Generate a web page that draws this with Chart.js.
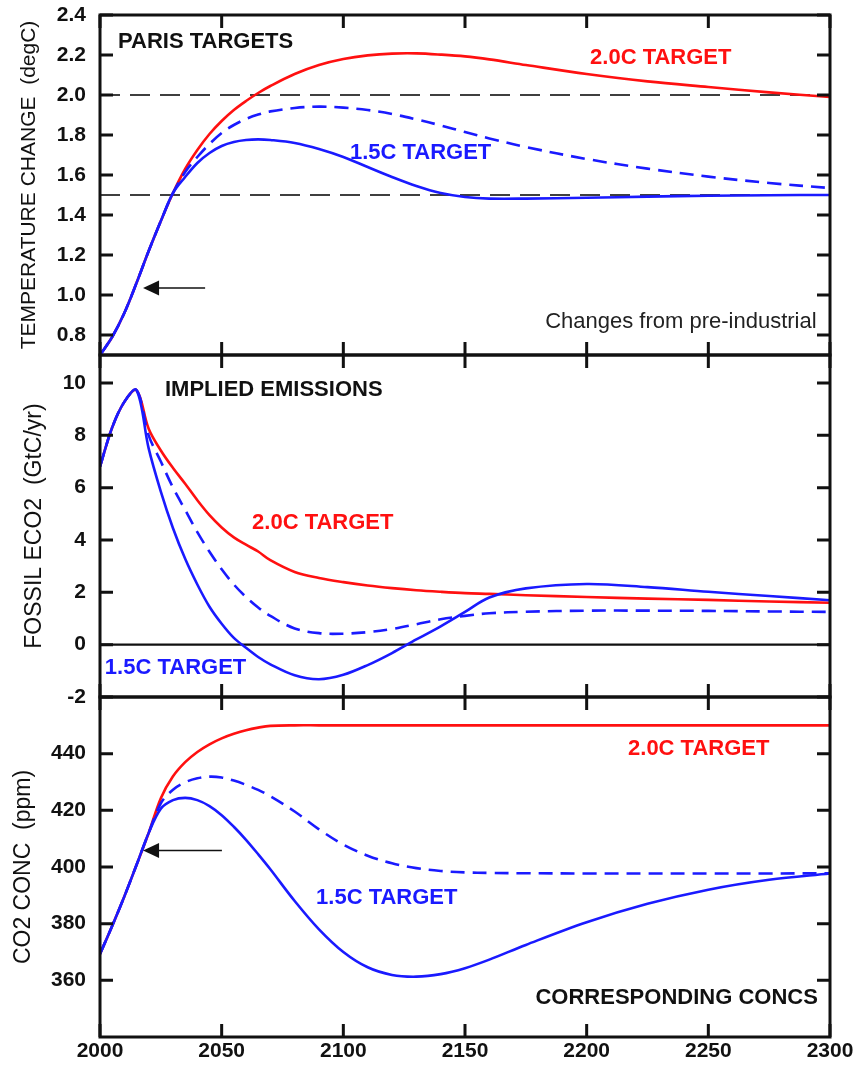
<!DOCTYPE html>
<html>
<head>
<meta charset="utf-8">
<script src="https://cdn.jsdelivr.net/npm/chart.js@4.4.0/dist/chart.umd.min.js"></script>
<style>
  html, body { margin: 0; padding: 0; background: #fff; }
  #wrap { position: relative; width: 854px; height: 1074px; }
  #wrap canvas { position: absolute; left: 0; top: 0; }
</style>
</head>
<body>
<div id="wrap">
  <canvas id="conc" width="854" height="1074"></canvas>
  <canvas id="emis" width="854" height="1074"></canvas>
  <canvas id="temp" width="854" height="1074"></canvas>
</div>
<script>
// sample years shared by every series
const years = [2000, 2005, 2010, 2015, 2020, 2025, 2030, 2035, 2040, 2045, 2050, 2055, 2060, 2065, 2070,
               2080, 2090, 2100, 2110, 2120, 2130, 2140, 2150, 2160, 2175, 2200, 2225, 2250, 2275, 2300];

// temperature change (degC)
const temp20 = [0.70, 0.79, 0.91, 1.06, 1.22, 1.37, 1.51, 1.63, 1.725, 1.805, 1.87, 1.925, 1.97, 2.01, 2.045,
                2.105, 2.15, 2.18, 2.198, 2.207, 2.208, 2.202, 2.193, 2.178, 2.15, 2.105, 2.068, 2.04, 2.013, 1.99];
const temp15 = [0.70, 0.79, 0.91, 1.06, 1.22, 1.37, 1.51, 1.59, 1.66, 1.71, 1.745, 1.765, 1.775, 1.778, 1.775,
                1.76, 1.73, 1.69, 1.64, 1.59, 1.545, 1.51, 1.49, 1.482, 1.482, 1.486, 1.492, 1.496, 1.499, 1.50];
const temp15d = [0.70, 0.79, 0.91, 1.06, 1.22, 1.37, 1.51, 1.615, 1.69, 1.755, 1.81, 1.85, 1.88, 1.902, 1.918,
                 1.935, 1.942, 1.937, 1.925, 1.905, 1.878, 1.848, 1.815, 1.783, 1.74, 1.68, 1.632, 1.592, 1.56, 1.535];

// fossil emissions (GtC/yr)
const emis20 = [6.8, 8.3, 9.28, 9.73, 8.25, 7.42, 6.75, 6.15, 5.52, 4.95, 4.48, 4.1, 3.82, 3.56, 3.23,
                2.78, 2.55, 2.39, 2.26, 2.16, 2.08, 2.02, 1.97, 1.94, 1.89, 1.82, 1.76, 1.71, 1.65, 1.6];
const emis15 = [6.8, 8.3, 9.28, 9.73, 7.5, 5.85, 4.45, 3.28, 2.3, 1.45, 0.8, 0.26, -0.12, -0.47, -0.75,
                -1.17, -1.32, -1.15, -0.78, -0.32, 0.2, 0.7, 1.25, 1.8, 2.15, 2.32, 2.2, 2.02, 1.86, 1.7];
const emis15d = [6.8, 8.3, 9.28, 9.73, 8.0, 7.0, 6.0, 5.15, 4.3, 3.55, 2.88, 2.3, 1.82, 1.42, 1.1,
                 0.62, 0.44, 0.42, 0.48, 0.6, 0.78, 0.97, 1.1, 1.2, 1.26, 1.3, 1.3, 1.29, 1.27, 1.25];

// CO2 concentration (ppm)
const conc20 = [369.3, 379.2, 389.6, 400.7, 412, 424.3, 432, 437, 440.6, 443.3, 445.4, 447, 448.3, 449.2, 449.8,
                450, 450, 450, 450, 450, 450, 450, 450, 450, 450, 450, 450, 450, 450, 450];
const conc15 = [369.3, 379.2, 389.6, 400.7, 412, 420.6, 423.6, 424.4, 423.6, 421.5, 418.3, 414.2, 409.6, 404.5, 399.2,
                388, 378, 370, 364.6, 361.9, 361.3, 362.2, 364.3, 367.3, 372.5, 380.5, 387, 392, 395.5, 397.7];
const conc15d = [369.3, 379.2, 389.6, 400.7, 412, 422.5, 427.3, 429.9, 431.3, 431.9, 431.6, 430.5, 429, 427.2, 425,
                 419.6, 413.3, 407.9, 404, 401.3, 399.6, 398.6, 398.1, 397.9, 397.8, 397.7, 397.7, 397.7, 397.7, 397.8];

// tick labels
const xTicks = [2000, 2050, 2100, 2150, 2200, 2250, 2300];
const tempTicks = [0.8, 1.0, 1.2, 1.4, 1.6, 1.8, 2.0, 2.2, 2.4];
const emisTicks = [-2, 0, 2, 4, 6, 8, 10];
const concTicks = [360, 380, 400, 420, 440];

const FONT = "'Liberation Sans', Arial, Helvetica, sans-serif";
const RED = '#ff1010';
const BLUE = '#1a1aff';
const INK = '#111';

const pts = vals => years.map((y, i) => ({ x: y, y: vals[i] }));
const flat = v => [{ x: 2000, y: v }, { x: 2300, y: v }];

// box with inward ticks on all four sides
const framePlugin = {
  id: 'frame',
  afterDatasetsDraw(chart, args, opts) {
    const { ctx, chartArea: a, scales: { x, y } } = chart;
    const len = 13;
    ctx.save();
    ctx.strokeStyle = INK;
    ctx.lineWidth = 3;
    ctx.beginPath();
    xTicks.forEach(v => {
      const px = x.getPixelForValue(v);
      ctx.moveTo(px, a.top); ctx.lineTo(px, a.top + len);
      ctx.moveTo(px, a.bottom); ctx.lineTo(px, a.bottom - len);
    });
    opts.yTicks.forEach(v => {
      const py = y.getPixelForValue(v);
      ctx.moveTo(a.left, py); ctx.lineTo(a.left + len, py);
      ctx.moveTo(a.right, py); ctx.lineTo(a.right - len, py);
    });
    ctx.stroke();
    ctx.strokeRect(a.left, a.top, a.right - a.left, a.bottom - a.top);
    ctx.restore();
  }
};

// text labels and arrows placed in data units
const notesPlugin = {
  id: 'notes',
  afterDatasetsDraw(chart, args, opts) {
    const { ctx, scales: { x, y } } = chart;
    ctx.save();
    (opts.texts || []).forEach(n => {
      ctx.font = (n.bold ? 'bold ' : '') + (n.size || 22) + 'px ' + FONT;
      ctx.fillStyle = n.color || INK;
      ctx.textAlign = n.align || 'left';
      ctx.textBaseline = 'middle';
      ctx.fillText(n.text, x.getPixelForValue(n.x), y.getPixelForValue(n.y));
    });
    (opts.arrows || []).forEach(ar => {
      const x0 = x.getPixelForValue(ar.from), x1 = x.getPixelForValue(ar.to), py = y.getPixelForValue(ar.y);
      ctx.strokeStyle = INK;
      ctx.fillStyle = INK;
      ctx.lineWidth = 1.6;
      ctx.beginPath();
      ctx.moveTo(x0, py); ctx.lineTo(x1 + 10, py);
      ctx.stroke();
      ctx.beginPath();
      ctx.moveTo(x1, py);
      ctx.lineTo(x1 + 16, py - 7.5);
      ctx.lineTo(x1 + 16, py + 7.5);
      ctx.closePath();
      ctx.fill();
    });
    ctx.restore();
  }
};

function series(vals, color, dashed) {
  return {
    data: pts(vals),
    borderColor: color,
    borderWidth: 2.6,
    borderDash: dashed ? [14, 8] : [],
    tension: 0.35,
    pointRadius: 0,
    fill: false
  };
}

function panel(id, p) {
  return new Chart(document.getElementById(id), {
    type: 'line',
    data: { datasets: p.datasets },
    options: {
      responsive: false,
      animation: false,
      events: [],
      layout: { padding: { top: p.top, bottom: p.bottom, left: 0, right: 24 } },
      plugins: {
        legend: { display: false },
        tooltip: { enabled: false },
        frame: { yTicks: p.yTicks },
        notes: p.notes
      },
      scales: {
        x: {
          type: 'linear',
          min: 2000,
          max: 2300,
          display: p.showX,
          afterBuildTicks: s => { s.ticks = xTicks.map(v => ({ value: v })); },
          afterFit: s => {
            s.paddingLeft = 0; s.paddingRight = 0;
            if (p.showX) s.height = 37;
          },
          grid: { display: false, drawTicks: false },
          border: { display: false },
          ticks: {
            color: INK,
            padding: 2,
            maxRotation: 0,
            autoSkip: false,
            font: { family: FONT, size: 21, weight: 'bold' },
            callback: v => String(v)
          }
        },
        y: {
          type: 'linear',
          min: p.min,
          max: p.max,
          afterBuildTicks: s => { s.ticks = p.yTicks.map(v => ({ value: v })); },
          afterFit: s => { s.width = 100; s.paddingTop = 0; s.paddingBottom = 0; },
          grid: { display: false, drawTicks: false },
          border: { display: false },
          ticks: {
            color: INK,
            padding: 14,
            autoSkip: false,
            font: { family: FONT, size: 21, weight: 'bold' },
            callback: v => v.toFixed(p.dec)
          },
          title: {
            display: true,
            text: p.title,
            color: INK,
            font: { family: FONT, size: p.titleSize },
            padding: { top: p.titlePad, bottom: 0 }
          }
        }
      }
    },
    plugins: [framePlugin, notesPlugin]
  });
}

const refLine = v => ({ data: flat(v), borderColor: '#000', borderWidth: 1.3, borderDash: [20, 10], pointRadius: 0 });

panel('temp', {
  top: 15, bottom: 1074 - 355, showX: false,
  min: 0.7, max: 2.4, dec: 1, yTicks: tempTicks,
  title: 'TEMPERATURE CHANGE  (degC)', titleSize: 21, titlePad: 17,
  datasets: [
    series(temp15, BLUE, false),
    series(temp15d, BLUE, true),
    series(temp20, RED, false),
    refLine(2.0),
    refLine(1.5)
  ],
  notes: {
    texts: [
      { text: 'PARIS TARGETS', x: 2007.4, y: 2.265, bold: true },
      { text: '2.0C TARGET', x: 2201.4, y: 2.185, bold: true, color: RED },
      { text: '1.5C TARGET', x: 2102.7, y: 1.71, bold: true, color: BLUE },
      { text: 'Changes from pre-industrial', x: 2294.5, y: 0.865, align: 'right', color: '#222' }
    ],
    arrows: [{ from: 2043.2, to: 2017.7, y: 1.035 }]
  }
});

panel('emis', {
  top: 355, bottom: 1074 - 697, showX: false,
  min: -2, max: 11.07, dec: 0, yTicks: emisTicks,
  title: 'FOSSIL ECO2  (GtC/yr)', titleSize: 23, titlePad: 21,
  datasets: [
    series(emis15, BLUE, false),
    series(emis15d, BLUE, true),
    series(emis20, RED, false),
    { data: flat(0), borderColor: INK, borderWidth: 2.4, pointRadius: 0 }
  ],
  notes: {
    texts: [
      { text: 'IMPLIED EMISSIONS', x: 2026.7, y: 9.73, bold: true },
      { text: '2.0C TARGET', x: 2062.5, y: 4.67, bold: true, color: RED },
      { text: '1.5C TARGET', x: 2002, y: -0.88, bold: true, color: BLUE }
    ]
  }
});

panel('conc', {
  top: 697, bottom: 0, showX: true,
  min: 340, max: 460, dec: 0, yTicks: concTicks,
  title: 'CO2 CONC  (ppm)', titleSize: 23, titlePad: 10,
  datasets: [
    series(conc15, BLUE, false),
    series(conc15d, BLUE, true),
    series(conc20, RED, false)
  ],
  notes: {
    texts: [
      { text: '2.0C TARGET', x: 2217, y: 441.8, bold: true, color: RED },
      { text: '1.5C TARGET', x: 2088.8, y: 389.2, bold: true, color: BLUE },
      { text: 'CORRESPONDING CONCS', x: 2295, y: 353.9, bold: true, align: 'right' }
    ],
    arrows: [{ from: 2050.1, to: 2017.7, y: 405.8 }]
  }
});
</script>
</body>
</html>
